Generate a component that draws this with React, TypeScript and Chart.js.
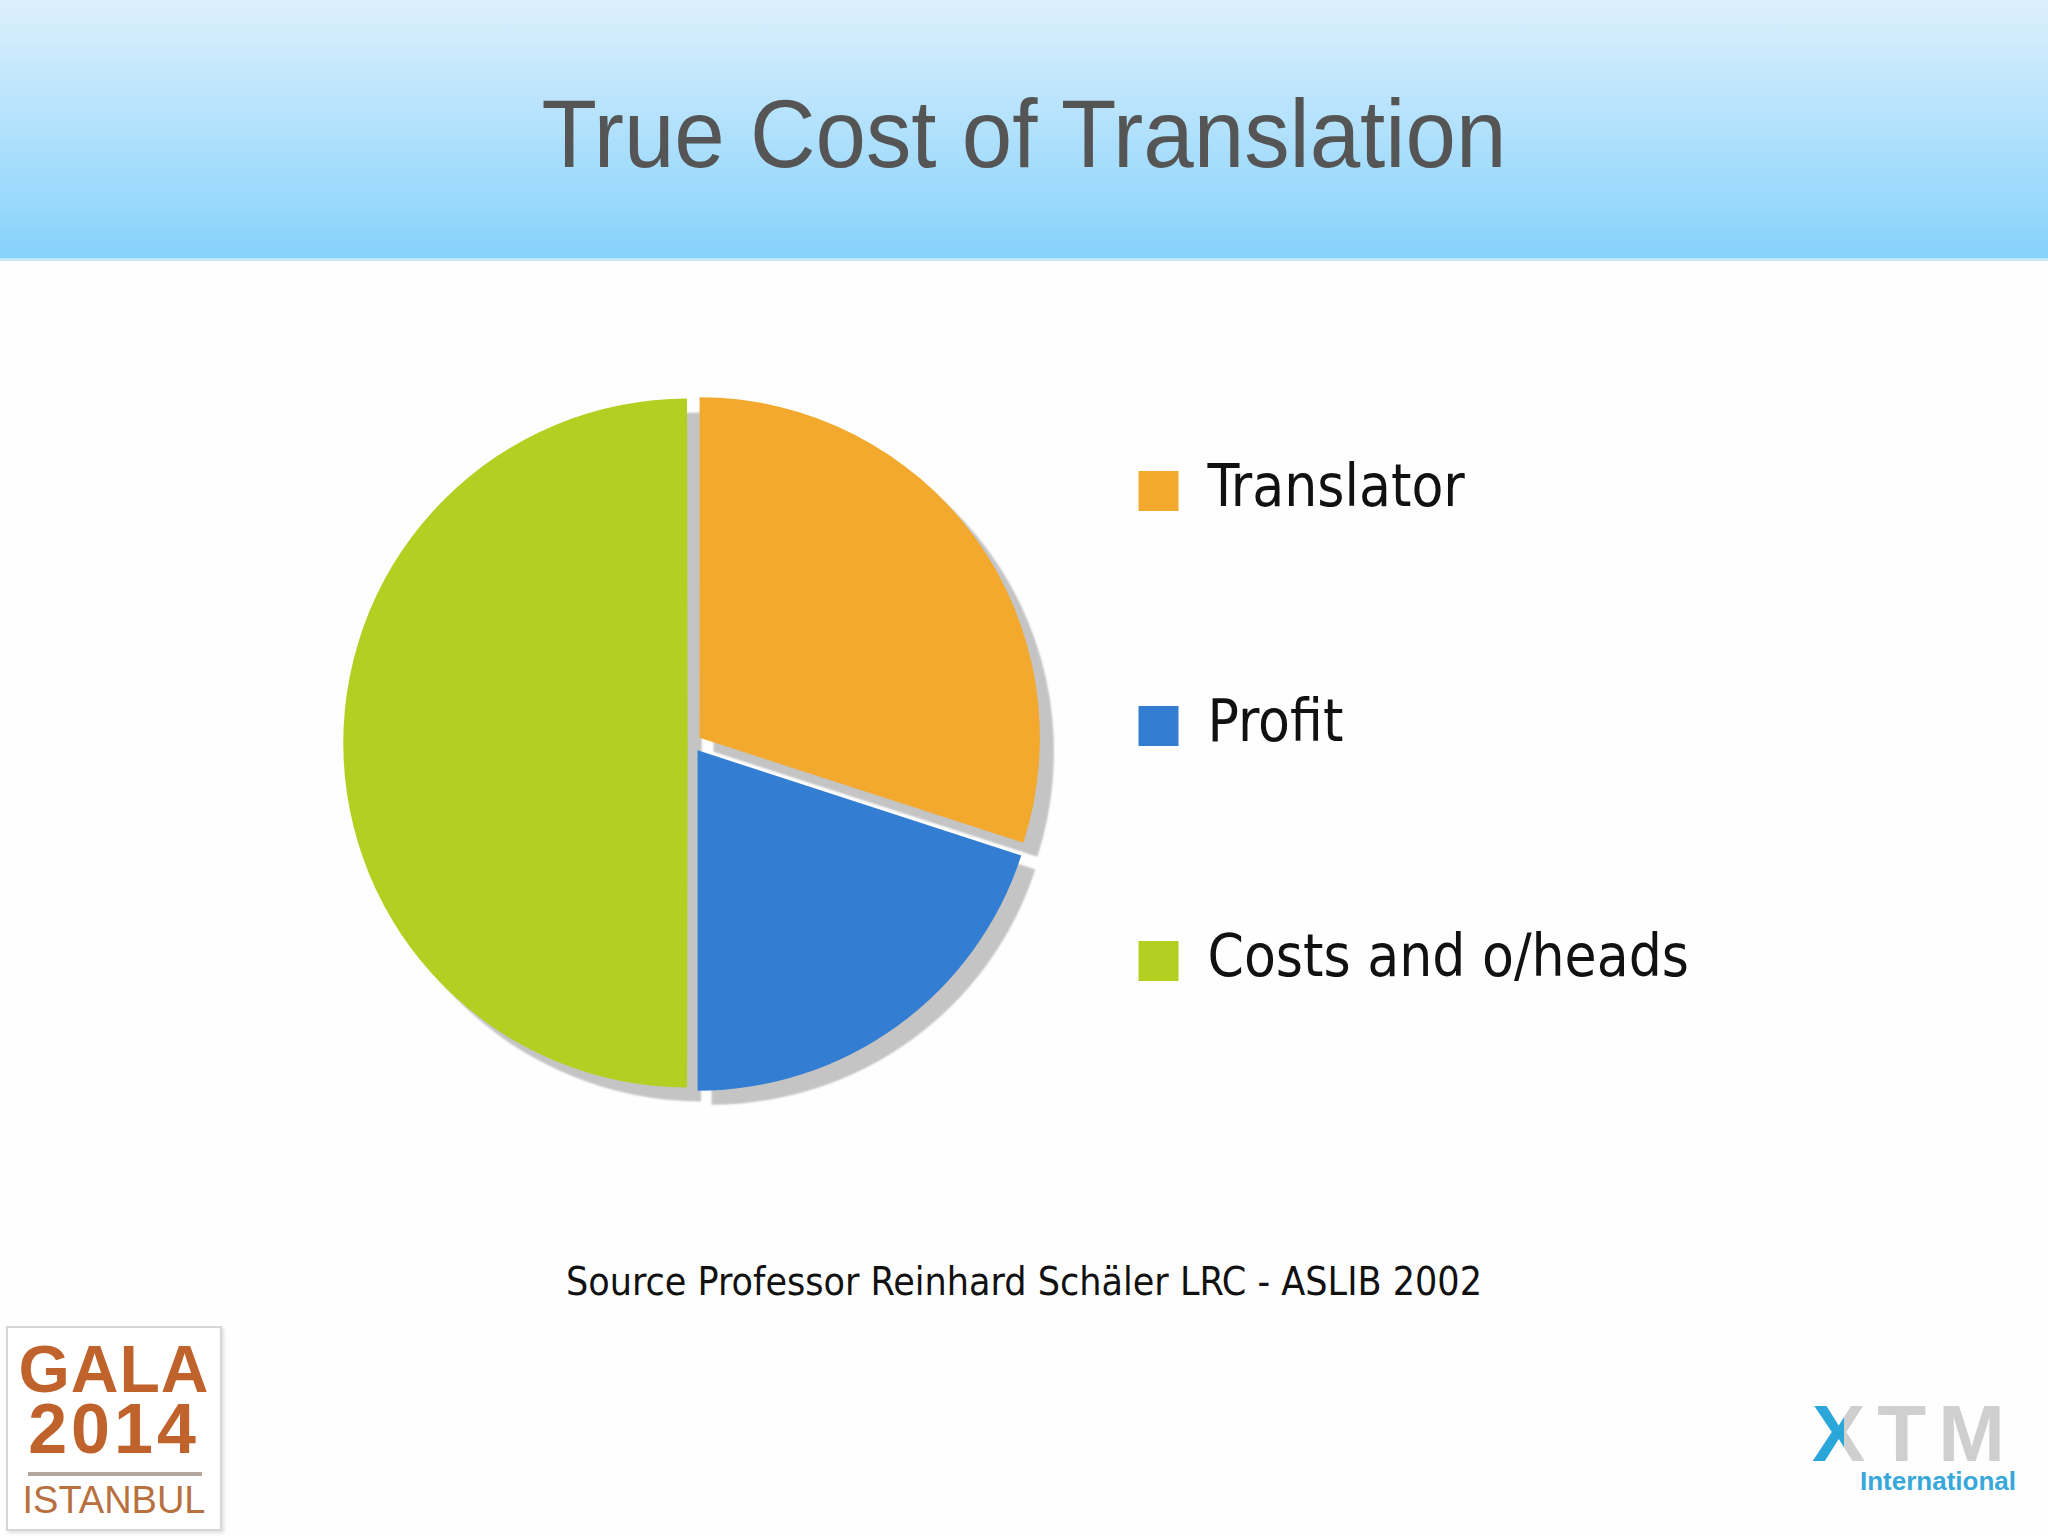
import React, { useEffect, useRef } from 'react';
import { Chart, registerables } from 'chart.js';

Chart.register(...registerables);

// ---- data ----
const TITLE = 'True Cost of Translation';
const categories = ['Translator', 'Profit', 'Costs and o/heads'];
const shares = [30, 20, 50];
const sliceColors = ['#F2A92E', '#337DD2', '#B3D022'];
const sliceOffsets = [36, 36, 18];
const SOURCE = 'Source Professor Reinhard Schäler LRC - ASLIB 2002';

// ---- layout ----
const LEGEND_FONT = '"DejaVu Sans Condensed", "DejaVu Sans", sans-serif';
const LEGEND_FS = 58;
const BOX_W = 40;
const LEGEND_PAD = 177;
const CANVAS_LEFT = 300;
const CANVAS_TOP = 285;
const CANVAS_H = 916;
const LEGEND_LEFT = 961;
const PIE_CX = 692;
const PIE_R = 340;

const shadowPlugin = {
  id: 'sliceShadow',
  beforeDatasetsDraw(chart: any) {
    const ctx = chart.ctx as CanvasRenderingContext2D;
    const meta = chart.getDatasetMeta(0);
    ctx.save();
    ctx.translate(-10000, 0);
    ctx.shadowColor = 'rgba(196,196,196,1)';
    ctx.shadowOffsetX = 10000 + 14;
    ctx.shadowOffsetY = 14;
    ctx.shadowBlur = 2;
    meta.data.forEach((a: any) => a.draw(ctx));
    ctx.restore();
  },
};

export default function App() {
  const ref = useRef<HTMLCanvasElement>(null);

  useEffect(() => {
    const canvas = ref.current!;
    const m = document.createElement('canvas').getContext('2d')!;
    m.font = `normal ${LEGEND_FS}px ${LEGEND_FONT}`;
    const maxText = Math.max(...categories.map((c) => m.measureText(c).width));
    const legendW = LEGEND_PAD + BOX_W + LEGEND_FS / 2 + maxText + 10;
    const w = Math.ceil(LEGEND_LEFT + legendW - CANVAS_LEFT);
    canvas.width = w;
    canvas.height = CANVAS_H;
    canvas.style.width = w + 'px';
    canvas.style.height = CANVAS_H + 'px';
    const padLeft = 2 * PIE_CX - LEGEND_LEFT - CANVAS_LEFT;

    const chart = new Chart(canvas, {
      type: 'pie',
      data: {
        labels: categories,
        datasets: [
          {
            data: shares,
            backgroundColor: sliceColors,
            borderWidth: 0,
            offset: sliceOffsets,
            hoverOffset: 0,
            radius: PIE_R,
            clip: false,
          } as any,
        ],
      },
      options: {
        responsive: false,
        maintainAspectRatio: false,
        animation: false,
        devicePixelRatio: 1,
        events: [],
        layout: { padding: { left: padLeft, right: 0, top: 0, bottom: 0 } },
        plugins: {
          legend: {
            position: 'right',
            align: 'start',
            maxWidth: 1500,
            labels: {
              boxWidth: BOX_W,
              boxHeight: BOX_W,
              padding: LEGEND_PAD,
              color: '#111111',
              font: { family: LEGEND_FONT, size: LEGEND_FS },
            },
          } as any,
          tooltip: { enabled: false },
        },
      },
      plugins: [shadowPlugin],
    });
    return () => chart.destroy();
  }, []);

  return (
    <div
      style={{
        position: 'absolute',
        left: 0,
        top: 0,
        width: 2048,
        height: 1536,
        overflow: 'hidden',
        background: '#fefefe',
      }}
    >
      <div
        style={{
          position: 'absolute',
          left: 0,
          top: 0,
          width: 2048,
          height: 258,
          background: 'linear-gradient(#ddf0fd, #86d2fb)',
          borderBottom: '3px solid #c6e9fc',
        }}
      >
        <div
          style={{
            position: 'absolute',
            left: 0,
            top: 86,
            width: 2048,
            textAlign: 'center',
            fontFamily: '"Liberation Sans", Arial, sans-serif',
            fontSize: 96,
            lineHeight: '96px',
            color: '#555555',
            transform: 'scaleX(0.945)',
          }}
        >
          {TITLE}
        </div>
      </div>

      <canvas
        ref={ref}
        style={{ position: 'absolute', left: CANVAS_LEFT, top: CANVAS_TOP }}
      />

      <div
        style={{
          position: 'absolute',
          left: 0,
          top: 1262,
          width: 2048,
          textAlign: 'center',
          fontFamily: LEGEND_FONT,
          fontSize: 39,
          lineHeight: '40px',
          color: '#111111',
        }}
      >
        {SOURCE}
      </div>

      {/* GALA badge */}
      <div
        style={{
          position: 'absolute',
          left: 6,
          top: 1326,
          width: 212,
          height: 201,
          border: '2px solid #d6d6d6',
          boxShadow: '2px 2px 3px #e0e0e0',
          background: '#ffffff',
          fontFamily: '"Liberation Sans", Arial, sans-serif',
          color: '#C0622B',
          textAlign: 'center',
        }}
      >
        <div style={{ position: 'absolute', left: 0, top: 8, width: 212, fontSize: 66, fontWeight: 'bold', lineHeight: '66px', letterSpacing: 1 }}>GALA</div>
        <div style={{ position: 'absolute', left: 0, top: 66, width: 212, fontSize: 70, fontWeight: 'bold', lineHeight: '70px', letterSpacing: 4 }}>2014</div>
        <div style={{ position: 'absolute', left: 20, top: 144, width: 174, height: 4, background: '#b5a79c' }} />
        <div style={{ position: 'absolute', left: 0, top: 152, width: 212, fontSize: 38, lineHeight: '40px', color: '#B8703F', letterSpacing: 0 }}>ISTANBUL</div>
      </div>

      {/* XTM logo */}
      <div
        style={{
          position: 'absolute',
          left: 1812,
          top: 1394,
          fontFamily: '"Liberation Sans", Arial, sans-serif',
          fontWeight: 'bold',
          fontSize: 80,
          lineHeight: '80px',
          color: '#cfcfcf',
          letterSpacing: 12,
        }}
      >
        <span
          style={{
            background: 'linear-gradient(90deg, #2aa6d9 50%, #cfcfcf 50%)',
            WebkitBackgroundClip: 'text',
            backgroundClip: 'text',
            color: 'transparent',
          }}
        >
          X
        </span>
        TM
      </div>
      <div
        style={{
          position: 'absolute',
          left: 1860,
          top: 1467,
          fontFamily: '"Liberation Sans", Arial, sans-serif',
          fontWeight: 'bold',
          fontSize: 26,
          lineHeight: '28px',
          color: '#38a7d9',
        }}
      >
        International
      </div>
    </div>
  );
}
